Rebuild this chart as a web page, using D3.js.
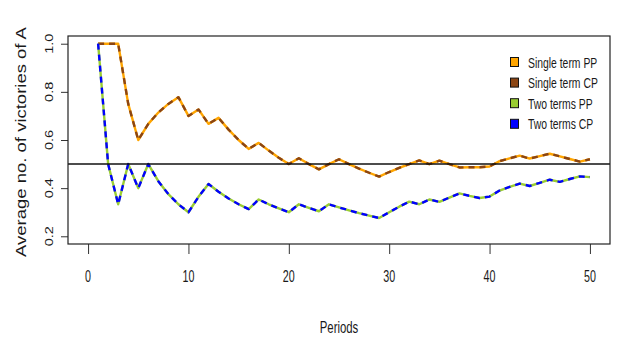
<!DOCTYPE html>
<html>
<head>
<meta charset="utf-8">
<script src="https://cdn.jsdelivr.net/npm/d3@7"></script>
<style>
  body { margin: 0; background: #fff; }
  svg { display: block; }
  text { font-family: "Liberation Sans", Arial, sans-serif; fill: #1a1a1a; }
</style>
</head>
<body>
<svg id="chart" width="625" height="352"></svg>
<script>
// x values (periods)
const periods = [1,2,3,4,5,6,7,8,9,10,11,12,13,14,15,16,17,18,19,20,
  21,22,23,24,25,26,27,28,29,30,31,32,33,34,35,36,37,38,39,40,
  41,42,43,44,45,46,47,48,49,50];

const singleTermPP = [1.000,1.000,1.000,0.750,0.600,0.667,0.714,0.750,0.778,0.700,
  0.727,0.667,0.692,0.643,0.600,0.563,0.588,0.556,0.526,0.500,
  0.524,0.500,0.478,0.500,0.520,0.500,0.481,0.464,0.448,0.467,
  0.484,0.500,0.515,0.500,0.514,0.500,0.486,0.487,0.487,0.490,
  0.512,0.524,0.535,0.523,0.533,0.543,0.532,0.521,0.510,0.520];

const singleTermCP = [1.000,1.000,1.000,0.750,0.600,0.667,0.714,0.750,0.778,0.700,
  0.727,0.667,0.692,0.643,0.600,0.563,0.588,0.556,0.526,0.500,
  0.524,0.500,0.478,0.500,0.520,0.500,0.481,0.464,0.448,0.467,
  0.484,0.500,0.515,0.500,0.514,0.500,0.486,0.487,0.487,0.490,
  0.512,0.524,0.535,0.523,0.533,0.543,0.532,0.521,0.510,0.520];

const twoTermsPP = [1.000,0.500,0.333,0.500,0.400,0.500,0.429,0.375,0.333,0.300,
  0.364,0.417,0.385,0.357,0.333,0.313,0.353,0.333,0.316,0.300,
  0.333,0.318,0.304,0.333,0.320,0.308,0.296,0.286,0.276,0.300,
  0.323,0.344,0.333,0.353,0.343,0.361,0.378,0.368,0.359,0.365,
  0.390,0.405,0.419,0.409,0.422,0.435,0.426,0.438,0.449,0.446];

const twoTermsCP = [1.000,0.500,0.333,0.500,0.400,0.500,0.429,0.375,0.333,0.300,
  0.364,0.417,0.385,0.357,0.333,0.313,0.353,0.333,0.316,0.300,
  0.333,0.318,0.304,0.333,0.320,0.308,0.296,0.286,0.276,0.300,
  0.323,0.344,0.333,0.353,0.343,0.361,0.378,0.368,0.359,0.365,
  0.390,0.405,0.419,0.409,0.422,0.435,0.426,0.438,0.449,0.446];

const seriesNames = ["Single term PP", "Single term CP", "Two terms PP", "Two terms CP"];
const seriesColors = ["#FFA500", "#8B4513", "#9ACD32", "#0000FF"];
const xTicks = [0, 10, 20, 30, 40, 50];
const yTicks = [0.2, 0.4, 0.6, 0.8, 1.0];
const refLevel = 0.5;

const svg = d3.select("#chart");
svg.append("rect").attr("width", 625).attr("height", 352).attr("fill", "#fff");

// plot region (R base-style box)
const plotLeft = 68, plotRight = 610, plotTop = 36, plotBottom = 244;
const x = d3.scaleLinear().domain([-2, 52]).range([plotLeft, plotRight]);
const y = d3.scaleLinear().domain([0.168, 1.032]).range([plotBottom, plotTop]);

// the source picture is squeezed horizontally, so text gets the same squeeze
const squish = 0.75;
const narrow = 0.67;   // upright text looks tall and narrow

// axes: ticks only, labels drawn by hand so they can be squeezed
const xAxis = svg.append("g")
  .attr("transform", "translate(0," + plotBottom + ")")
  .call(d3.axisBottom(x).tickValues(xTicks).tickSize(10).tickFormat(""));
const yAxis = svg.append("g")
  .attr("transform", "translate(" + plotLeft + ",0)")
  .call(d3.axisLeft(y).tickValues(yTicks).tickSize(7).tickFormat(""));
[xAxis, yAxis].forEach(g => {
  g.select(".domain").remove();
  g.selectAll(".tick line").attr("stroke", "#333").attr("stroke-width", 1);
});

svg.append("g").selectAll("text")
  .data(xTicks)
  .enter().append("text")
    .attr("transform", d => "translate(" + x(d) + ",282) scale(" + narrow + ",1)")
    .attr("text-anchor", "middle")
    .attr("font-size", 16)
    .text(d => d);

svg.append("g").selectAll("text")
  .data(yTicks)
  .enter().append("text")
    .attr("transform", d => "translate(53," + y(d) + ") scale(" + squish + ",1) rotate(-90)")
    .attr("text-anchor", "middle")
    .attr("font-size", 14.5)
    .text(d => d.toFixed(1));

// axis titles
svg.append("text")
  .attr("transform", "translate(339,333) scale(" + narrow + ",1)")
  .attr("text-anchor", "middle")
  .attr("font-size", 17)
  .text("Periods");

svg.append("text")
  .attr("transform", "translate(26," + ((plotTop + plotBottom) / 2 + 2) + ") scale(" + squish + ",1) rotate(-90)")
  .attr("text-anchor", "middle")
  .attr("font-size", 18.5)
  .text("Average no. of victories of A");

// series: solid PP lines with dashed CP lines on top
const line = d3.line()
  .x((d, i) => x(periods[i]))
  .y(d => y(d));

const series = [
  { values: singleTermPP, dash: null },
  { values: singleTermCP, dash: "6,5" },
  { values: twoTermsPP, dash: null },
  { values: twoTermsCP, dash: "6,5" }
];

series.forEach((s, i) => {
  svg.append("path")
    .datum(s.values)
    .attr("d", line)
    .attr("fill", "none")
    .attr("stroke", seriesColors[i])
    .attr("stroke-width", 2.4)
    .attr("stroke-linejoin", "round")
    .attr("stroke-dasharray", s.dash);
});

// reference line at 0.5
svg.append("line")
  .attr("x1", plotLeft).attr("x2", plotRight)
  .attr("y1", y(refLevel)).attr("y2", y(refLevel))
  .attr("stroke", "#111")
  .attr("stroke-width", 1.5);

// box
svg.append("rect")
  .attr("x", plotLeft).attr("y", plotTop)
  .attr("width", plotRight - plotLeft).attr("height", plotBottom - plotTop)
  .attr("fill", "none")
  .attr("stroke", "#222")
  .attr("stroke-width", 1.2);

// legend (no frame)
const legend = svg.append("g").selectAll("g")
  .data(seriesNames)
  .enter().append("g")
    .attr("transform", (d, i) => "translate(0," + (62 + i * 20.6) + ")");

legend.append("rect")
  .attr("x", 510.5).attr("y", -4.5)
  .attr("width", 8).attr("height", 9)
  .attr("fill", (d, i) => seriesColors[i])
  .attr("stroke", "#111")
  .attr("stroke-width", 1);

legend.append("text")
  .attr("transform", "translate(528,5.5) scale(" + narrow + ",1)")
  .attr("font-size", 15.5)
  .text(d => d);
</script>
</body>
</html>
